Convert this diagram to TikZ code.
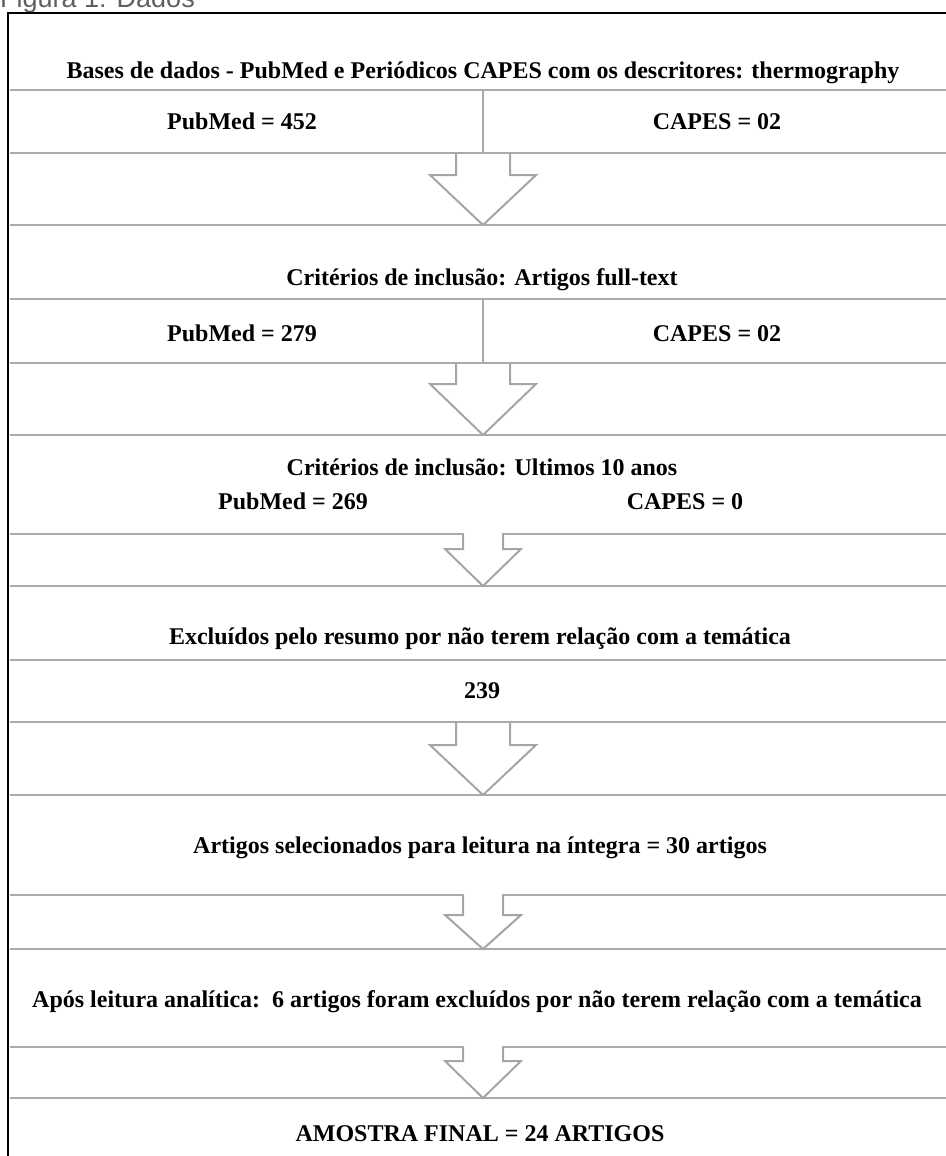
\documentclass[tikz,border=0pt]{standalone}
\usepackage{fontspec}
\setmainfont{Liberation Serif}
\newfontfamily\legendafont{Liberation Sans}
\usepackage{tikz}
\usetikzlibrary{calc}
\definecolor{linhaCinza}  {RGB}{170,170,170}
\definecolor{setaCinza}   {RGB}{165,165,165}
\definecolor{legendaCinza}{RGB}{95, 95, 95}

\begin{document}
\begin{tikzpicture}[x=1pt,y=-1pt,
          txt/.style={font=\bfseries\fontsize{24}{28}\selectfont,
                      inner sep=0pt,anchor=base},
          sep/.style={linhaCinza,line width=2.5pt},
          seta/.style={draw=setaCinza,line width=2pt,line join=miter},
        ]
        \useasboundingbox (0,0) rectangle (945,1156);
        % Legenda
        \node[font=\legendafont\fontsize{27}{30}\selectfont,text=legendaCinza,
              inner sep=0pt,anchor=base west] (legenda) at (0,8) {Figura 1: Dados};
        % Moldura
        \draw[line width=2.5pt] (950,13) -- (8,13) -- (8,1160);
        % Linhas
        \foreach \y in {90,153,225,299,363,435,534,586,660,722,795,895,949,1047,1098}{
          \draw[sep] (9.5,\y) -- (950,\y);
        }
        \draw[sep] (483,90) -- (483,153);
        \draw[sep] (483,299) -- (483,363);
        % Setas
        \foreach \i/\y/\l/\s/\h/\c/\g in {1/153/72/27/53/22/0,2/363/72/27/53/21/0,
                                          3/534/52/20/38/15/1,4/722/73/27/53/23/0,
                                          5/895/54/20/38/20/1,6/1047/51/20/38/14/1}{
          \coordinate (topo\i) at (483,\y);
          \coordinate (ponta\i) at (483,\y+\l);
          \fill[white,opacity=\g] ($(topo\i)+(-\s+1,-2)$) rectangle ($(topo\i)+(\s-1,2)$);
          \draw[seta] ($(topo\i)+(-\s,0)$) -- ($(topo\i)+(-\s,\c)$) -- ($(topo\i)+(-\h,\c)$)
                      -- (ponta\i) -- ($(topo\i)+(\h,\c)$) -- ($(topo\i)+(\s,\c)$)
                      -- ($(topo\i)+(\s,0)$);
        }
        % Textos
        \node[txt] (titulo) at (483,78) {Bases de dados - PubMed e Periódicos CAPES com os descritores: thermography};
        \node[txt] (pub1)   at (242,129) {PubMed = 452};
        \node[txt] (cap1)   at (717,129) {CAPES = 02};
        \node[txt] (crit1)  at (482,285) {Critérios de inclusão: Artigos full-text};
        \node[txt] (pub2)   at (242,341) {PubMed = 279};
        \node[txt] (cap2)   at (717,341) {CAPES = 02};
        \node[txt] (crit2)  at (482,475) {Critérios de inclusão: Ultimos 10 anos};
        \node[txt] (pub3)   at (293,509) {PubMed = 269};
        \node[txt] (cap3)   at (685,509) {CAPES = 0};
        \node[txt] (excl)   at (480,644) {Excluídos pelo resumo por não terem relação com a temática};
        \node[txt] (n239)   at (482,698) {239};
        \node[txt] (sel)    at (480,853) {Artigos selecionados para leitura na íntegra = 30 artigos};
        \node[txt] (apos)   at (477,1007) {Após leitura analítica:\ \ 6 artigos foram excluídos por não terem relação com a temática};
        \node[txt] (final)  at (480,1141) {AMOSTRA FINAL = 24 ARTIGOS};
      \end{tikzpicture}
\end{document}
